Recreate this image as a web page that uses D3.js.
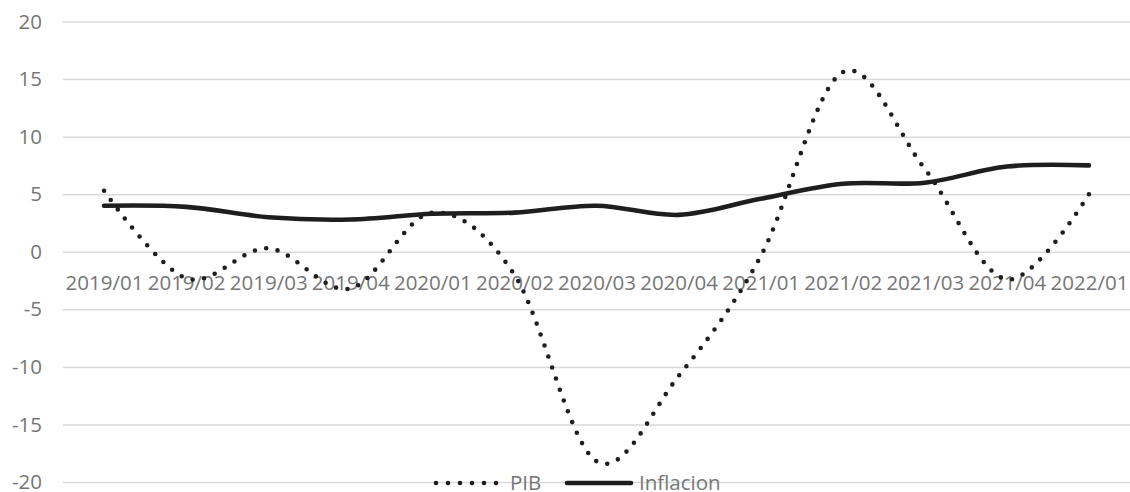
<!DOCTYPE html>
<html>
<head>
<meta charset="utf-8">
<script src="https://cdn.jsdelivr.net/npm/d3@7"></script>
<style>
  html, body { margin: 0; padding: 0; background: #fff; }
  svg { display: block; }
  text { font-family: "Open Sans", "Noto Sans", sans-serif; fill: #767676; }
</style>
</head>
<body>
<svg id="chart" width="1130" height="492"></svg>
<script>
// Quarterly periods
const categories = ["2019/01", "2019/02", "2019/03", "2019/04", "2020/01", "2020/02",
  "2020/03", "2020/04", "2021/01", "2021/02", "2021/03", "2021/04", "2022/01"];

// GDP growth (%)
const pib = [5.3, -2.3, 0.3, -3.2, 3.4, -2.0, -18.2, -10.8, -0.4, 15.6, 7.2, -2.4, 5.0];

// Inflation (%)
const inflacion = [4.0, 3.9, 3.0, 2.8, 3.3, 3.4, 4.0, 3.2, 4.6, 5.9, 6.0, 7.4, 7.5];

const yTicks = [-20, -15, -10, -5, 0, 5, 10, 15, 20];

const svg = d3.select("#chart");
const plotLeft = 63, plotRight = 1130, plotTop = 21.5, plotBottom = 482;
const ink = "#1e1e1e";
const fontSize = 20.5;

const x = d3.scalePoint().domain(categories).range([plotLeft, plotRight]).padding(0.5);
const y = d3.scaleLinear().domain([-20, 20]).range([plotBottom, plotTop]);

// Horizontal gridlines with value labels (plain hyphen for negatives)
const yAxis = d3.axisLeft(y).tickValues(yTicks).tickSize(-(plotRight - plotLeft)).tickPadding(21)
  .tickFormat(d => String(d));
const gy = svg.append("g").attr("transform", `translate(${plotLeft},0)`).call(yAxis);
gy.select(".domain").remove();
gy.selectAll(".tick line").attr("stroke", "#d9d9d9").attr("stroke-width", 1.5);
gy.selectAll(".tick text").attr("font-size", fontSize).attr("fill", "#767676")
  .attr("font-family", '"Open Sans", sans-serif');

// Category labels sitting under the zero line
const xAxis = d3.axisBottom(x).tickSize(0).tickPadding(23.5);
const gx = svg.append("g").attr("transform", `translate(0,${y(0)})`).call(xAxis);
gx.select(".domain").remove();
gx.selectAll(".tick text").attr("font-size", fontSize).attr("fill", "#767676")
  .attr("font-family", '"Open Sans", sans-serif');

const line = d3.line()
  .x((d, i) => x(categories[i]))
  .y(d => y(d))
  .curve(d3.curveCardinal.tension(0));

// Inflation: thick solid line
svg.append("path")
  .datum(inflacion)
  .attr("d", line)
  .attr("fill", "none")
  .attr("stroke", ink)
  .attr("stroke-width", 4.6)
  .attr("stroke-linecap", "round")
  .attr("stroke-linejoin", "round");

// GDP: round-dot line
svg.append("path")
  .datum(pib)
  .attr("d", line)
  .attr("fill", "none")
  .attr("stroke", ink)
  .attr("stroke-width", 4.6)
  .attr("stroke-linecap", "round")
  .attr("stroke-dasharray", "0 11.6");

// Legend
const legendY = 483;
const legend = svg.append("g");
legend.append("line")
  .attr("x1", 436).attr("x2", 496.5).attr("y1", legendY).attr("y2", legendY)
  .attr("stroke", ink).attr("stroke-width", 4.6)
  .attr("stroke-linecap", "round").attr("stroke-dasharray", "0 12");
legend.append("text")
  .attr("x", 510).attr("y", legendY).attr("dy", "0.35em")
  .attr("font-size", fontSize).text("PIB");
legend.append("line")
  .attr("x1", 567).attr("x2", 631).attr("y1", legendY).attr("y2", legendY)
  .attr("stroke", ink).attr("stroke-width", 4.6).attr("stroke-linecap", "round");
legend.append("text")
  .attr("x", 639).attr("y", legendY).attr("dy", "0.35em")
  .attr("font-size", fontSize).text("Inflacion");
</script>
</body>
</html>
